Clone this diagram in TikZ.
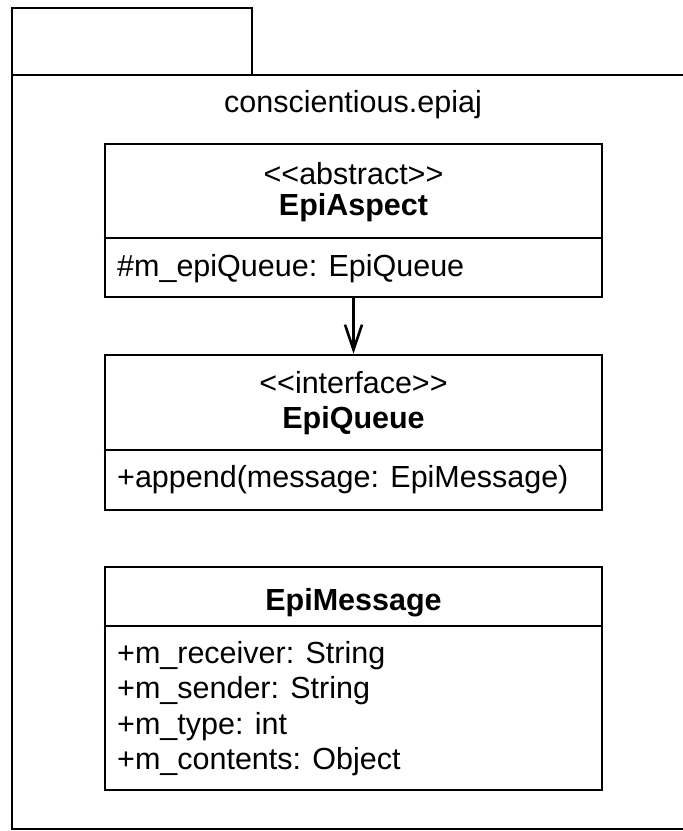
\documentclass[tikz,border=0pt]{standalone}
\usepackage{fontspec}
\setmainfont{Liberation Sans}
\usetikzlibrary{arrows.meta}
\begin{document}
\begin{tikzpicture}[x=1pt,y=-1pt,
  outline/.style={draw=black, line width=2.6pt},
  pkgpart/.style={outline, rectangle, inner sep=0pt},
  classbox/.style={outline, rectangle, inner sep=0pt, minimum width=497pt},
  txt/.style={anchor=base, inner sep=0pt, font=\fontsize{30.5}{36}\selectfont},
  title/.style={txt, font=\fontsize{30.5}{36}\selectfont\bfseries},
  member/.style={txt, anchor=base west},
  assoc/.style={outline, -{Straight Barb[length=25pt,width=17pt,line width=2.6pt]}}
]
\clip (0,0) rectangle (683,831);
\fill[white] (0,0) rectangle (683,831);

% package frame with its tab
\node[pkgpart, minimum width=240pt, minimum height=67pt] (tab) at (132,41.5) {};
\node[pkgpart, minimum width=700pt, minimum height=754pt] (pkg) at (362,452) {};
\node[txt] (pkgname) at (353,112) {conscientious.epiaj};

% EpiAspect
\node[classbox, minimum height=153pt] (aspect) at (353.5,220.5) {};
\draw[outline] (aspect.west |- 0,238) -- (aspect.east |- 0,238);
\node[txt] (aspectst) at (353.5,184) {<{}<abstract>{}>};
\node[title] (aspectname) at (353.5,215) {EpiAspect};
\node[member] (aspectattr) at (117,276) {\#m\_epiQueue: EpiQueue};

% EpiQueue
\node[classbox, minimum height=155pt] (queue) at (353.5,432.5) {};
\draw[outline] (queue.west |- 0,450) -- (queue.east |- 0,450);
\node[txt] (queuest) at (353.5,393) {<{}<interface>{}>};
\node[title] (queuename) at (353.5,428) {EpiQueue};
\node[member] (queueop) at (117,487) {+append(message: EpiMessage)};

% EpiMessage
\node[classbox, minimum height=223pt] (message) at (353.5,678.5) {};
\draw[outline] (message.west |- 0,626) -- (message.east |- 0,626);
\node[title] (messagename) at (353.5,610) {EpiMessage};
\node[member] (m1) at (117,663) {+m\_receiver: String};
\node[member] (m2) at (117,698) {+m\_sender: String};
\node[member] (m3) at (117,734) {+m\_type: int};
\node[member] (m4) at (117,769) {+m\_contents: Object};

% navigable association
\draw[assoc] (aspect.south) -- (queue.north);
\end{tikzpicture}
\end{document}
